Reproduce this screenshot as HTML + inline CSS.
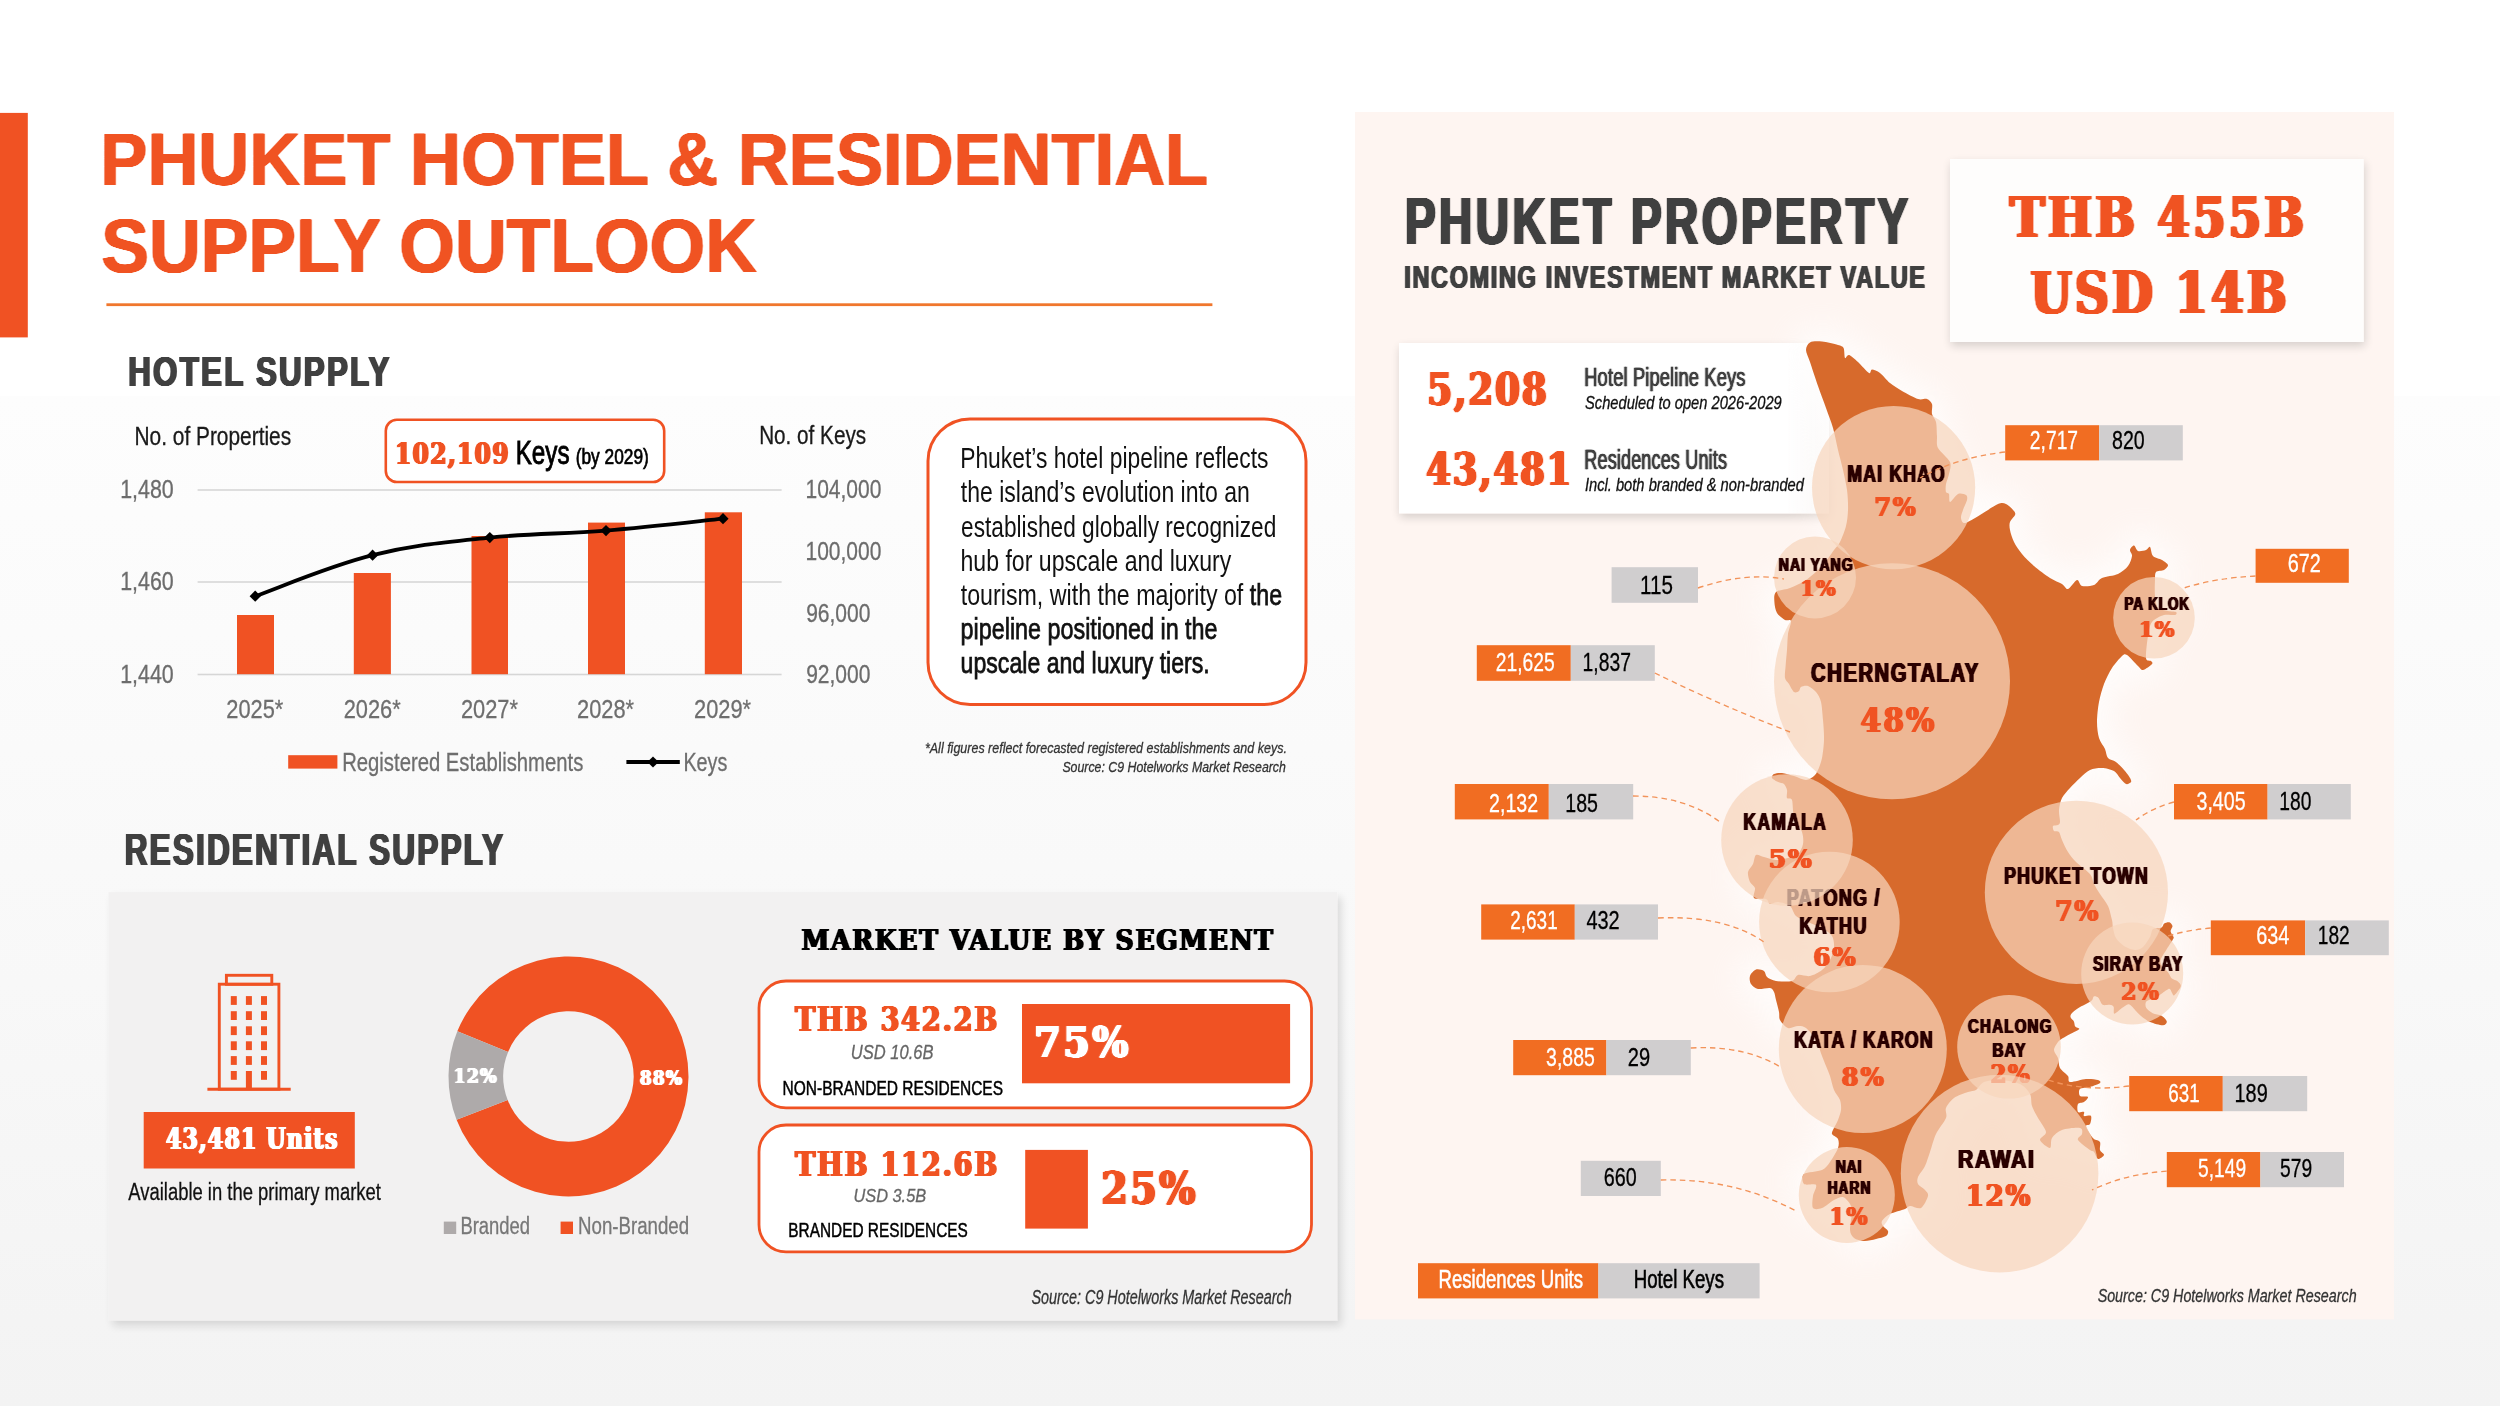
<!DOCTYPE html>
<html lang="en"><head><meta charset="utf-8"><title>Phuket Hotel &amp; Residential Supply Outlook</title><style>html,body{margin:0;padding:0;background:#fff}body{width:2500px;height:1406px;overflow:hidden}svg{display:block;will-change:transform}text{white-space:pre}</style></head><body>
<svg width="2500" height="1406" viewBox="0 0 2500 1406">
<defs>
<linearGradient id="pagebg" x1="0" y1="0" x2="0" y2="1"><stop offset="0" stop-color="#ffffff"/><stop offset="0.2815" stop-color="#ffffff"/><stop offset="0.2816" stop-color="#fdfdfd"/><stop offset="0.7" stop-color="#f8f8f8"/><stop offset="1" stop-color="#f3f3f3"/></linearGradient>
<linearGradient id="statbg" x1="0" y1="0" x2="1" y2="0"><stop offset="0" stop-color="#fff" stop-opacity="1"/><stop offset="0.9" stop-color="#fff" stop-opacity="1"/><stop offset="1" stop-color="#fff" stop-opacity="0.7"/></linearGradient>
<filter id="sh1" x="-5%" y="-10%" width="110%" height="125%"><feGaussianBlur in="SourceAlpha" stdDeviation="5"/><feOffset dx="1" dy="4"/><feComponentTransfer><feFuncA type="linear" slope="0.16"/></feComponentTransfer><feMerge><feMergeNode/><feMergeNode in="SourceGraphic"/></feMerge></filter>
<filter id="sh2" x="-5%" y="-10%" width="110%" height="125%"><feGaussianBlur in="SourceAlpha" stdDeviation="4.5"/><feOffset dx="4" dy="5"/><feComponentTransfer><feFuncA type="linear" slope="0.13"/></feComponentTransfer><feMerge><feMergeNode/><feMergeNode in="SourceGraphic"/></feMerge></filter>
<filter id="glow" x="-30%" y="-15%" width="160%" height="130%"><feGaussianBlur stdDeviation="16"/></filter>
<filter id="tk3_404040" x="-4%" y="-30%" width="108%" height="160%"><feConvolveMatrix in="SourceAlpha" order="3 1" kernelMatrix="0.30 1 0.30" divisor="1" edgeMode="none" result="m"/><feFlood flood-color="#404040"/><feComposite in2="m" operator="in"/></filter>
<filter id="tk6_2a0503" x="-4%" y="-30%" width="108%" height="160%"><feConvolveMatrix in="SourceAlpha" order="3 1" kernelMatrix="0.60 1 0.60" divisor="1" edgeMode="none" result="m"/><feFlood flood-color="#2a0503"/><feComposite in2="m" operator="in"/></filter>
<filter id="tk6_f05223" x="-4%" y="-30%" width="108%" height="160%"><feConvolveMatrix in="SourceAlpha" order="3 1" kernelMatrix="0.60 1 0.60" divisor="1" edgeMode="none" result="m"/><feFlood flood-color="#f05223"/><feComposite in2="m" operator="in"/></filter>
<filter id="tk7_2a0503" x="-4%" y="-30%" width="108%" height="160%"><feConvolveMatrix in="SourceAlpha" order="3 1" kernelMatrix="0.70 1 0.70" divisor="1" edgeMode="none" result="m"/><feFlood flood-color="#2a0503"/><feComposite in2="m" operator="in"/></filter>
<filter id="tk7_404040" x="-4%" y="-30%" width="108%" height="160%"><feConvolveMatrix in="SourceAlpha" order="3 1" kernelMatrix="0.70 1 0.70" divisor="1" edgeMode="none" result="m"/><feFlood flood-color="#404040"/><feComposite in2="m" operator="in"/></filter>
<filter id="tk7_f05223" x="-4%" y="-30%" width="108%" height="160%"><feConvolveMatrix in="SourceAlpha" order="3 1" kernelMatrix="0.70 1 0.70" divisor="1" edgeMode="none" result="m"/><feFlood flood-color="#f05223"/><feComposite in2="m" operator="in"/></filter>
<filter id="tk7_fff" x="-4%" y="-30%" width="108%" height="160%"><feConvolveMatrix in="SourceAlpha" order="3 1" kernelMatrix="0.70 1 0.70" divisor="1" edgeMode="none" result="m"/><feFlood flood-color="#fff"/><feComposite in2="m" operator="in"/></filter>
<filter id="tk8_000" x="-4%" y="-30%" width="108%" height="160%"><feConvolveMatrix in="SourceAlpha" order="3 1" kernelMatrix="0.80 1 0.80" divisor="1" edgeMode="none" result="m"/><feFlood flood-color="#000"/><feComposite in2="m" operator="in"/></filter>
<filter id="tk8_f05223" x="-4%" y="-30%" width="108%" height="160%"><feConvolveMatrix in="SourceAlpha" order="3 1" kernelMatrix="0.80 1 0.80" divisor="1" edgeMode="none" result="m"/><feFlood flood-color="#f05223"/><feComposite in2="m" operator="in"/></filter>
<filter id="tk9_404040" x="-4%" y="-30%" width="108%" height="160%"><feConvolveMatrix in="SourceAlpha" order="3 1" kernelMatrix="0.90 1 0.90" divisor="1" edgeMode="none" result="m"/><feFlood flood-color="#404040"/><feComposite in2="m" operator="in"/></filter>
<filter id="tk9_f05223" x="-4%" y="-30%" width="108%" height="160%"><feConvolveMatrix in="SourceAlpha" order="3 1" kernelMatrix="0.90 1 0.90" divisor="1" edgeMode="none" result="m"/><feFlood flood-color="#f05223"/><feComposite in2="m" operator="in"/></filter>
<filter id="tk9_fff" x="-4%" y="-30%" width="108%" height="160%"><feConvolveMatrix in="SourceAlpha" order="3 1" kernelMatrix="0.90 1 0.90" divisor="1" edgeMode="none" result="m"/><feFlood flood-color="#fff"/><feComposite in2="m" operator="in"/></filter>
<filter id="tk12_404040" x="-4%" y="-30%" width="108%" height="160%"><feConvolveMatrix in="SourceAlpha" order="5 1" kernelMatrix="0.20 1 1 1 0.20" divisor="1" edgeMode="none" result="m"/><feFlood flood-color="#404040"/><feComposite in2="m" operator="in"/></filter>
<filter id="tk12_f05223" x="-4%" y="-30%" width="108%" height="160%"><feConvolveMatrix in="SourceAlpha" order="5 1" kernelMatrix="0.20 1 1 1 0.20" divisor="1" edgeMode="none" result="m"/><feFlood flood-color="#f05223"/><feComposite in2="m" operator="in"/></filter>
<filter id="tk12_fff" x="-4%" y="-30%" width="108%" height="160%"><feConvolveMatrix in="SourceAlpha" order="5 1" kernelMatrix="0.20 1 1 1 0.20" divisor="1" edgeMode="none" result="m"/><feFlood flood-color="#fff"/><feComposite in2="m" operator="in"/></filter>
<filter id="tk15_f05223" x="-4%" y="-30%" width="108%" height="160%"><feConvolveMatrix in="SourceAlpha" order="5 1" kernelMatrix="0.50 1 1 1 0.50" divisor="1" edgeMode="none" result="m"/><feFlood flood-color="#f05223"/><feComposite in2="m" operator="in"/></filter>
</defs>
<rect width="2500" height="1406" fill="url(#pagebg)"/>
<rect x="0" y="112.9" width="27.8" height="224.5" fill="#f05223"/>
<rect x="106.4" y="303.3" width="1106" height="2.8" fill="#f0772d"/>
<g id="hotel-chart">
<rect x="197.6" y="489.2" width="584" height="1.6" fill="#d6d6d6"/>
<rect x="197.6" y="581.2" width="584" height="1.6" fill="#d6d6d6"/>
<rect x="197.6" y="673.7" width="584" height="1.6" fill="#d6d6d6"/>
<rect x="237" y="615" width="37.0" height="59.2" fill="#f05223"/>
<rect x="353.8" y="573" width="37.1" height="101.2" fill="#f05223"/>
<rect x="471.5" y="536" width="36.5" height="138.2" fill="#f05223"/>
<rect x="588" y="522.6" width="37.0" height="151.6" fill="#f05223"/>
<rect x="704.8" y="512.3" width="37.2" height="161.9" fill="#f05223"/>
<path d="M255.2,596.2C276.7,588.7 329.6,565.9 372.6,555.2C415.6,544.5 447.0,542.1 489.8,537.6C532.6,533.1 563.2,534.1 606.0,530.6C648.8,527.1 701.5,520.9 723.0,518.7" fill="none" stroke="#000" stroke-width="3.8" stroke-linecap="round"/>
<path d="M249.6,596.2L255.2,590.6L260.8,596.2L255.2,601.8000000000001Z" fill="#000"/>
<path d="M367.0,555.2L372.6,549.6L378.20000000000005,555.2L372.6,560.8000000000001Z" fill="#000"/>
<path d="M484.2,537.6L489.8,532.0L495.40000000000003,537.6L489.8,543.2Z" fill="#000"/>
<path d="M600.4,530.6L606,525.0L611.6,530.6L606,536.2Z" fill="#000"/>
<path d="M717.4,518.7L723,513.1L728.6,518.7L723,524.3000000000001Z" fill="#000"/>
<rect x="385.8" y="419.8" width="278.4" height="62.2" rx="11" fill="#fff" stroke="#f05223" stroke-width="2.6"/>
<rect x="288.2" y="755.2" width="49.2" height="13.4" fill="#f05223"/>
<path d="M626.4,762H679.8" stroke="#000" stroke-width="3.8"/><path d="M647.4,762l5.6,-5.6l5.6,5.6l-5.6,5.6Z" fill="#000"/>
</g>
<rect x="928" y="419" width="378" height="285.5" rx="42" fill="#fff" stroke="#f05223" stroke-width="3"/>
<text xml:space="preserve" x="960.17" y="468.30" font-family="Liberation Sans, sans-serif" font-size="28.99" fill="#111" textLength="308.33" lengthAdjust="spacingAndGlyphs">Phuket’s hotel pipeline reflects</text>
<text xml:space="preserve" x="960.75" y="502.43" font-family="Liberation Sans, sans-serif" font-size="28.99" fill="#111" textLength="289.05" lengthAdjust="spacingAndGlyphs">the island’s evolution into an</text>
<text xml:space="preserve" x="961.09" y="536.56" font-family="Liberation Sans, sans-serif" font-size="28.99" fill="#111" textLength="315.19" lengthAdjust="spacingAndGlyphs">established globally recognized</text>
<text xml:space="preserve" x="960.50" y="570.69" font-family="Liberation Sans, sans-serif" font-size="28.99" fill="#111" textLength="270.80" lengthAdjust="spacingAndGlyphs">hub for upscale and luxury</text>
<text xml:space="preserve" x="960.75" y="604.82" font-family="Liberation Sans, sans-serif" font-size="28.99" fill="#111" textLength="321.30" lengthAdjust="spacingAndGlyphs">tourism, with the majority of <tspan stroke="#111" stroke-width="0.75">the</tspan></text>
<text xml:space="preserve" x="960.60" y="638.95" font-family="Liberation Sans, sans-serif" font-size="28.99" fill="#111" textLength="256.96" lengthAdjust="spacingAndGlyphs"><tspan stroke="#111" stroke-width="0.75">pipeline positioned in the</tspan></text>
<text xml:space="preserve" x="960.61" y="673.08" font-family="Liberation Sans, sans-serif" font-size="28.99" fill="#111" textLength="249.12" lengthAdjust="spacingAndGlyphs"><tspan stroke="#111" stroke-width="0.75">upscale and luxury tiers.</tspan></text>
<rect x="108.5" y="892.2" width="1228.7" height="428.4" fill="#f2f1f1" filter="url(#sh2)"/>
<g id="building-icon" fill="none" stroke="#f05223" stroke-width="2.9">
<path d="M207.4,1089.3H290.7"/><rect x="219.3" y="984.2" width="59.6" height="105"/><rect x="226.4" y="975.3" width="45.4" height="9"/>
</g>
<g fill="#f05223">
<rect x="230.8" y="996.1" width="6" height="8.8"/>
<rect x="230.8" y="1011.2" width="6" height="8.8"/>
<rect x="230.8" y="1026.3" width="6" height="8.8"/>
<rect x="230.8" y="1041.3" width="6" height="8.8"/>
<rect x="230.8" y="1056.1" width="6" height="8.8"/>
<rect x="230.8" y="1071.0" width="6" height="8.8"/>
<rect x="245.9" y="996.1" width="6" height="8.8"/>
<rect x="245.9" y="1011.2" width="6" height="8.8"/>
<rect x="245.9" y="1026.3" width="6" height="8.8"/>
<rect x="245.9" y="1041.3" width="6" height="8.8"/>
<rect x="245.9" y="1056.1" width="6" height="8.8"/>
<rect x="245.9" y="1071.0" width="6" height="18.4"/>
<rect x="261.0" y="996.1" width="6" height="8.8"/>
<rect x="261.0" y="1011.2" width="6" height="8.8"/>
<rect x="261.0" y="1026.3" width="6" height="8.8"/>
<rect x="261.0" y="1041.3" width="6" height="8.8"/>
<rect x="261.0" y="1056.1" width="6" height="8.8"/>
<rect x="261.0" y="1071.0" width="6" height="8.8"/>
</g>
<rect x="143.7" y="1112" width="211.1" height="56.5" fill="#f05223"/>
<path d="M457.32,1031.35A120,120 0 1 1 456.55,1119.70L507.67,1099.97A65.2,65.2 0 1 0 508.09,1051.97Z" fill="#f05223"/>
<path d="M456.55,1119.70A120,120 0 0 1 457.32,1031.35L508.09,1051.97A65.2,65.2 0 0 0 507.67,1099.97Z" fill="#aeaaaa"/>
<rect x="443.8" y="1221.6" width="12.4" height="12.4" fill="#aeaaaa"/>
<rect x="560.6" y="1221.6" width="12.4" height="12.4" fill="#f05223"/>
<rect x="759" y="981" width="552.5" height="126.8" rx="27" fill="#fff" stroke="#f05223" stroke-width="2.8"/>
<rect x="759" y="1125" width="552.5" height="126.8" rx="27" fill="#fff" stroke="#f05223" stroke-width="2.8"/>
<rect x="1022" y="1004" width="268.1" height="79.3" fill="#f05223"/>
<rect x="1025.2" y="1149.9" width="62.7" height="78.7" fill="#f05223"/>
<rect x="1355" y="112" width="1039" height="1207.4" fill="#fef5f1"/>
<rect x="1950" y="159" width="413.8" height="183" fill="#fefdfc" filter="url(#sh1)"/>
<rect x="1399" y="343" width="430" height="170.4" fill="url(#statbg)" filter="url(#sh1)"/>
<path d="M1806.0,350.0C1806.0,347.1 1807.6,343.7 1810.0,342.4C1812.4,341.1 1817.8,341.2 1822.0,341.6C1826.2,342.0 1834.8,344.0 1838.0,345.0C1841.2,346.0 1842.5,346.1 1843.6,348.0C1844.6,349.9 1844.2,356.9 1845.0,358.0C1845.8,359.1 1847.0,354.4 1849.0,355.0C1851.0,355.6 1855.0,359.3 1858.0,362.0C1861.0,364.7 1866.9,371.9 1869.0,373.0C1871.1,374.1 1870.3,369.6 1872.0,369.6C1873.7,369.6 1877.3,371.0 1880.0,373.0C1882.7,375.0 1886.7,380.3 1890.0,383.0C1893.3,385.7 1897.8,388.6 1902.0,391.0C1906.2,393.4 1914.2,397.8 1918.0,399.0C1921.8,400.2 1924.9,398.2 1927.0,399.0C1929.1,399.8 1931.2,401.8 1932.0,404.0C1932.8,406.2 1931.4,411.3 1932.0,414.0C1932.6,416.7 1935.2,418.7 1936.0,422.0C1936.8,425.3 1936.7,432.1 1937.0,436.0C1937.3,439.9 1936.0,444.1 1938.0,448.0C1940.0,451.9 1948.3,458.1 1950.0,462.0C1951.7,465.9 1949.6,470.7 1949.0,474.0C1948.4,477.3 1946.5,481.3 1946.0,484.0C1945.5,486.7 1945.5,490.5 1946.0,492.0C1946.5,493.5 1948.4,492.5 1949.0,494.0C1949.6,495.5 1948.7,502.0 1950.0,502.0C1951.3,502.0 1955.6,495.1 1958.0,494.0C1960.4,492.9 1964.7,494.1 1966.0,495.0C1967.3,495.9 1967.5,497.8 1967.0,500.0C1966.5,502.2 1963.9,507.3 1963.0,510.0C1962.1,512.7 1960.7,516.0 1961.0,518.0C1961.3,520.0 1962.2,523.5 1965.0,523.0C1967.8,522.5 1975.0,517.9 1980.0,515.0C1985.0,512.1 1994.1,505.6 1998.0,504.0C2001.9,502.4 2003.6,502.9 2006.0,504.0C2008.4,505.1 2012.7,509.4 2014.0,511.0C2015.3,512.6 2015.6,513.4 2015.0,515.0C2014.4,516.6 2010.8,519.8 2010.0,522.0C2009.2,524.2 2009.4,527.0 2010.0,530.0C2010.6,533.0 2012.2,538.4 2014.0,542.0C2015.8,545.6 2019.0,550.4 2022.0,554.0C2025.0,557.6 2029.8,562.4 2034.0,566.0C2038.2,569.6 2045.8,575.3 2050.0,578.0C2054.2,580.7 2059.3,582.4 2062.0,584.0C2064.7,585.6 2065.8,589.6 2068.0,589.0C2070.2,588.4 2074.9,580.5 2077.0,580.0C2079.1,579.5 2079.4,585.2 2082.0,586.0C2084.6,586.8 2091.0,586.2 2094.0,585.0C2097.0,583.8 2098.4,579.6 2102.0,578.0C2105.6,576.4 2114.1,575.8 2118.0,574.0C2121.9,572.2 2125.9,568.7 2128.0,566.0C2130.1,563.3 2131.7,558.4 2132.0,556.0C2132.3,553.6 2129.7,551.6 2130.0,550.0C2130.3,548.4 2132.8,545.5 2134.0,545.6C2135.2,545.8 2136.2,550.3 2138.0,551.0C2139.8,551.7 2144.2,550.6 2146.0,550.0C2147.8,549.4 2148.9,546.1 2150.0,547.0C2151.1,547.9 2151.2,554.0 2153.0,556.0C2154.8,558.0 2159.8,558.6 2162.0,560.0C2164.2,561.4 2167.7,563.5 2168.0,565.0C2168.3,566.5 2165.8,569.0 2164.0,570.0C2162.2,571.0 2157.3,570.5 2156.0,572.0C2154.7,573.5 2155.2,576.4 2155.0,580.0C2154.8,583.6 2154.6,591.8 2155.0,596.0C2155.4,600.2 2156.1,605.8 2158.0,608.0C2159.9,610.2 2165.3,610.4 2168.0,611.0C2170.7,611.6 2174.9,611.4 2176.0,612.0C2177.1,612.6 2176.8,614.5 2175.0,615.0C2173.2,615.5 2167.4,614.0 2164.0,615.0C2160.6,616.0 2154.4,618.9 2152.0,622.0C2149.6,625.1 2148.9,630.6 2148.0,636.0C2147.1,641.4 2145.6,654.2 2146.0,658.0C2146.4,661.8 2150.1,660.1 2151.0,661.0C2151.9,661.9 2153.2,662.6 2152.0,664.0C2150.8,665.4 2145.1,669.7 2143.0,670.0C2140.9,670.3 2140.4,668.2 2138.0,666.0C2135.6,663.8 2129.4,656.5 2127.0,655.0C2124.6,653.5 2124.2,654.0 2122.0,656.0C2119.8,658.0 2114.7,663.8 2112.0,668.0C2109.3,672.2 2105.9,678.9 2104.0,684.0C2102.1,689.1 2100.1,696.3 2099.0,702.0C2097.9,707.7 2097.0,716.6 2097.0,722.0C2097.0,727.4 2097.8,734.0 2099.0,738.0C2100.2,742.0 2103.7,746.0 2105.0,749.0C2106.3,752.0 2106.3,756.0 2108.0,758.0C2109.7,760.0 2113.4,760.0 2116.0,762.0C2118.6,764.0 2122.9,768.6 2125.0,771.0C2127.1,773.4 2129.1,776.4 2130.0,778.0C2130.9,779.6 2131.6,781.1 2131.0,782.0C2130.4,782.9 2127.7,784.6 2126.0,784.0C2124.3,783.4 2121.8,780.0 2120.0,778.0C2118.2,776.0 2116.7,772.5 2114.0,771.0C2111.3,769.5 2105.6,768.1 2102.0,768.0C2098.4,767.9 2093.3,768.5 2090.0,770.0C2086.7,771.5 2083.0,775.3 2080.0,778.0C2077.0,780.7 2072.7,785.0 2070.0,788.0C2067.3,791.0 2063.7,794.7 2062.0,798.0C2060.3,801.3 2059.3,806.4 2059.0,810.0C2058.7,813.6 2060.2,819.8 2060.0,822.0C2059.8,824.2 2059.1,824.4 2058.0,825.0C2056.9,825.6 2053.6,825.1 2053.0,826.0C2052.4,826.9 2053.1,830.1 2054.0,831.0C2054.9,831.9 2057.8,830.6 2059.0,832.0C2060.2,833.4 2060.7,837.0 2062.0,840.0C2063.3,843.0 2065.9,848.7 2068.0,852.0C2070.1,855.3 2072.7,858.7 2076.0,862.0C2079.3,865.3 2087.3,870.7 2090.0,874.0C2092.7,877.3 2092.5,881.0 2094.0,884.0C2095.5,887.0 2097.9,890.7 2100.0,894.0C2102.1,897.3 2106.2,902.1 2108.0,906.0C2109.8,909.9 2111.2,916.7 2112.0,920.0C2112.8,923.3 2112.4,925.3 2113.0,928.0C2113.6,930.7 2114.3,935.3 2116.0,938.0C2117.7,940.7 2121.2,944.2 2124.0,946.0C2126.8,947.8 2132.2,949.9 2135.0,950.0C2137.8,950.1 2140.8,949.0 2143.0,947.0C2145.2,945.0 2148.5,939.7 2150.0,937.0C2151.5,934.3 2151.3,930.4 2153.0,929.0C2154.7,927.6 2159.9,928.2 2161.6,927.4C2163.3,926.6 2163.0,924.3 2164.2,923.5C2165.4,922.7 2168.1,921.9 2169.3,922.3C2170.5,922.7 2172.3,924.8 2172.5,926.1C2172.7,927.4 2170.5,929.7 2170.6,931.2C2170.7,932.7 2172.8,935.1 2173.2,936.3C2173.6,937.5 2174.2,937.0 2173.2,938.9C2172.2,940.8 2168.7,945.6 2166.8,949.1C2164.9,952.6 2160.2,958.4 2160.4,961.9C2160.6,965.4 2166.3,969.7 2168.0,972.2C2169.7,974.7 2170.5,977.2 2171.9,978.6C2173.3,980.0 2176.3,980.0 2177.6,981.2C2178.9,982.4 2181.3,984.2 2180.8,986.3C2180.3,988.4 2175.7,994.2 2174.4,995.2C2173.1,996.2 2172.7,993.7 2171.9,992.7C2171.1,991.7 2170.7,988.8 2169.3,988.8C2168.0,988.8 2165.0,991.4 2162.9,992.7C2160.8,994.1 2157.7,996.5 2155.2,997.8C2152.7,999.1 2147.6,1000.1 2146.3,1001.6C2145.0,1003.1 2145.3,1006.3 2146.3,1008.0C2147.3,1009.7 2150.4,1012.0 2152.7,1013.2C2155.0,1014.4 2159.5,1014.5 2161.6,1015.7C2163.7,1016.9 2166.6,1020.1 2166.8,1021.5C2167.0,1022.9 2165.4,1025.2 2162.9,1025.3C2160.4,1025.4 2153.5,1023.6 2150.1,1022.1C2146.7,1020.6 2142.6,1017.4 2139.9,1015.1C2137.2,1012.8 2133.9,1008.4 2132.2,1006.8C2130.5,1005.2 2129.8,1004.0 2128.3,1004.2C2126.8,1004.4 2124.0,1006.6 2121.9,1008.0C2119.8,1009.4 2115.5,1014.0 2114.3,1013.8C2113.1,1013.6 2114.3,1008.1 2113.6,1006.8C2112.9,1005.4 2111.4,1005.1 2109.8,1004.8C2108.2,1004.5 2104.4,1005.8 2102.7,1004.8C2101.0,1003.8 2099.6,999.0 2098.3,997.8C2097.0,996.6 2094.9,996.0 2093.8,996.5C2092.7,997.0 2093.5,999.3 2091.2,1001.0C2088.9,1002.7 2081.4,1006.1 2078.4,1008.0C2075.4,1009.9 2072.6,1012.4 2071.4,1013.8C2070.2,1015.2 2070.3,1016.4 2070.7,1017.6C2071.1,1018.8 2073.2,1020.1 2073.9,1021.5C2074.6,1022.9 2074.4,1025.4 2075.2,1026.6C2076.0,1027.8 2080.2,1028.0 2079.1,1029.2C2078.0,1030.4 2070.6,1033.6 2068.2,1034.9C2065.8,1036.2 2064.5,1037.0 2063.0,1038.1C2061.5,1039.2 2059.3,1040.2 2058.0,1042.0C2056.7,1043.8 2054.0,1047.6 2054.0,1050.0C2054.0,1052.4 2057.1,1055.3 2058.0,1058.0C2058.9,1060.7 2058.5,1065.3 2060.0,1068.0C2061.5,1070.7 2066.5,1073.9 2068.0,1076.0C2069.5,1078.1 2067.3,1081.5 2070.0,1082.0C2072.7,1082.5 2081.8,1079.3 2086.0,1079.0C2090.2,1078.7 2095.9,1079.4 2098.0,1080.0C2100.1,1080.6 2101.2,1082.0 2100.0,1083.0C2098.8,1084.0 2093.0,1086.1 2090.0,1087.0C2087.0,1087.9 2081.5,1087.7 2080.0,1089.0C2078.5,1090.3 2078.8,1094.8 2080.0,1096.0C2081.2,1097.2 2087.4,1096.1 2088.0,1097.0C2088.6,1097.9 2085.5,1101.0 2084.0,1102.0C2082.5,1103.0 2078.9,1102.5 2078.0,1104.0C2077.1,1105.5 2077.1,1110.8 2078.0,1112.0C2078.9,1113.2 2083.1,1111.4 2084.0,1112.0C2084.9,1112.6 2082.9,1115.4 2084.0,1116.0C2085.1,1116.6 2090.1,1114.8 2091.0,1116.0C2091.9,1117.2 2090.8,1122.5 2090.0,1124.0C2089.2,1125.5 2086.0,1124.5 2086.0,1126.0C2086.0,1127.5 2088.8,1132.0 2090.0,1134.0C2091.2,1136.0 2092.5,1137.8 2094.0,1139.0C2095.5,1140.2 2099.1,1140.3 2100.0,1142.0C2100.9,1143.7 2099.4,1148.0 2100.0,1150.0C2100.6,1152.0 2104.3,1153.7 2104.0,1155.0C2103.7,1156.3 2099.5,1159.5 2098.0,1159.0C2096.5,1158.5 2095.2,1153.3 2094.0,1152.0C2092.8,1150.7 2092.4,1151.8 2090.0,1150.0C2087.6,1148.2 2079.2,1142.4 2078.0,1140.0C2076.8,1137.6 2081.7,1135.8 2082.0,1134.0C2082.3,1132.2 2083.0,1128.6 2080.0,1128.0C2077.0,1127.4 2066.2,1128.5 2062.0,1130.0C2057.8,1131.5 2053.8,1135.3 2052.0,1138.0C2050.2,1140.7 2051.8,1147.7 2050.0,1148.0C2048.2,1148.3 2040.6,1142.4 2040.0,1140.0C2039.4,1137.6 2046.3,1135.3 2046.0,1132.0C2045.7,1128.7 2040.1,1121.9 2038.0,1118.0C2035.9,1114.1 2033.2,1109.6 2032.0,1106.0C2030.8,1102.4 2031.8,1097.3 2030.0,1094.0C2028.2,1090.7 2024.5,1086.1 2020.0,1084.0C2015.5,1081.9 2005.4,1080.3 2000.0,1080.0C1994.6,1079.7 1987.6,1080.5 1984.0,1082.0C1980.4,1083.5 1978.4,1088.5 1976.0,1090.0C1973.6,1091.5 1971.3,1090.8 1968.0,1092.0C1964.7,1093.2 1957.3,1095.6 1954.0,1098.0C1950.7,1100.4 1947.2,1105.0 1946.0,1108.0C1944.8,1111.0 1947.5,1114.1 1946.0,1118.0C1944.5,1121.9 1938.4,1128.9 1936.0,1134.0C1933.6,1139.1 1931.7,1147.2 1930.0,1152.0C1928.3,1156.8 1926.8,1162.2 1925.0,1166.0C1923.2,1169.8 1919.0,1174.3 1918.0,1177.0C1917.0,1179.7 1917.0,1182.0 1918.0,1184.0C1919.0,1186.0 1923.5,1188.2 1925.0,1190.0C1926.5,1191.8 1928.6,1193.3 1928.0,1196.0C1927.4,1198.7 1923.7,1206.5 1921.0,1208.0C1918.3,1209.5 1912.4,1205.8 1910.0,1206.0C1907.6,1206.2 1908.0,1207.8 1905.0,1209.0C1902.0,1210.2 1893.5,1212.2 1890.0,1214.0C1886.5,1215.8 1883.0,1219.2 1882.0,1221.0C1881.0,1222.8 1882.1,1224.5 1883.0,1226.0C1883.9,1227.5 1887.5,1229.5 1888.0,1231.0C1888.5,1232.5 1887.8,1234.8 1886.0,1236.0C1884.2,1237.2 1879.3,1238.2 1876.0,1239.0C1872.7,1239.8 1867.3,1241.2 1864.0,1241.0C1860.7,1240.8 1856.1,1239.7 1854.0,1238.0C1851.9,1236.3 1850.3,1233.9 1850.0,1230.0C1849.7,1226.1 1852.0,1215.9 1852.0,1212.0C1852.0,1208.1 1851.3,1206.2 1850.0,1204.0C1848.7,1201.8 1845.4,1197.6 1843.0,1197.0C1840.6,1196.4 1837.2,1198.3 1834.0,1200.0C1830.8,1201.7 1825.2,1206.8 1822.0,1208.0C1818.8,1209.2 1814.3,1209.8 1813.0,1208.0C1811.7,1206.2 1812.5,1199.5 1813.0,1196.0C1813.5,1192.5 1817.3,1186.8 1816.0,1185.0C1814.7,1183.2 1805.8,1185.7 1804.0,1184.0C1802.2,1182.3 1801.3,1176.1 1804.0,1174.0C1806.7,1171.9 1818.1,1171.8 1822.0,1170.0C1825.9,1168.2 1827.6,1165.3 1830.0,1162.0C1832.4,1158.7 1836.8,1151.5 1838.0,1148.0C1839.2,1144.5 1838.9,1141.1 1838.0,1139.0C1837.1,1136.9 1832.6,1135.7 1832.0,1134.0C1831.4,1132.3 1833.1,1130.1 1834.0,1128.0C1834.9,1125.9 1837.0,1122.7 1838.0,1120.0C1839.0,1117.3 1840.7,1113.0 1841.0,1110.0C1841.3,1107.0 1841.0,1103.0 1840.0,1100.0C1839.0,1097.0 1835.5,1093.6 1834.0,1090.0C1832.5,1086.4 1831.2,1079.6 1830.0,1076.0C1828.8,1072.4 1827.2,1069.0 1826.0,1066.0C1824.8,1063.0 1823.5,1059.9 1822.0,1056.0C1820.5,1052.1 1818.4,1044.2 1816.0,1040.0C1813.6,1035.8 1808.7,1030.1 1806.0,1028.0C1803.3,1025.9 1800.7,1026.0 1798.0,1026.0C1795.3,1026.0 1790.7,1028.9 1788.0,1028.0C1785.3,1027.1 1781.3,1022.4 1780.0,1020.0C1778.7,1017.6 1779.6,1015.0 1779.0,1012.0C1778.4,1009.0 1776.8,1003.0 1776.0,1000.0C1775.2,997.0 1774.9,993.8 1774.0,992.0C1773.1,990.2 1772.4,988.5 1770.0,988.0C1767.6,987.5 1760.8,989.6 1758.0,989.0C1755.2,988.4 1752.2,986.0 1751.0,984.0C1749.8,982.0 1749.2,978.2 1750.0,976.0C1750.8,973.8 1753.9,970.4 1756.0,969.6C1758.1,968.9 1762.3,969.9 1764.0,971.0C1765.7,972.1 1765.2,975.5 1767.0,977.0C1768.8,978.5 1772.2,980.4 1776.0,981.0C1779.8,981.6 1788.7,981.9 1792.0,981.0C1795.3,980.1 1795.3,975.8 1798.0,975.0C1800.7,974.2 1806.4,976.8 1810.0,976.0C1813.6,975.2 1819.0,972.4 1822.0,970.0C1825.0,967.6 1828.2,963.3 1830.0,960.0C1831.8,956.7 1833.7,951.6 1834.0,948.0C1834.3,944.4 1833.8,939.0 1832.0,936.0C1830.2,933.0 1825.6,930.1 1822.0,928.0C1818.4,925.9 1811.9,923.8 1808.0,922.0C1804.1,920.2 1798.7,918.4 1796.0,916.0C1793.3,913.6 1792.7,908.1 1790.0,906.0C1787.3,903.9 1781.0,902.3 1778.0,902.0C1775.0,901.7 1771.8,904.5 1770.0,904.0C1768.2,903.5 1768.4,899.9 1766.0,899.0C1763.6,898.1 1755.7,899.6 1754.0,898.0C1752.3,896.4 1755.6,890.4 1755.0,888.0C1754.4,885.6 1751.0,884.4 1750.0,882.0C1749.0,879.6 1747.5,874.7 1748.0,872.0C1748.5,869.3 1751.8,866.5 1753.0,864.0C1754.2,861.5 1754.3,856.0 1756.0,855.0C1757.7,854.0 1761.0,856.2 1764.0,857.0C1767.0,857.8 1772.4,859.9 1776.0,860.0C1779.6,860.1 1784.7,858.9 1788.0,858.0C1791.3,857.1 1795.8,856.1 1798.0,854.0C1800.2,851.9 1802.4,847.3 1803.0,844.0C1803.6,840.7 1803.3,836.2 1802.0,832.0C1800.7,827.8 1795.5,820.8 1794.0,816.0C1792.5,811.2 1793.0,802.7 1792.0,800.0C1791.0,797.3 1787.8,799.5 1787.0,798.0C1786.2,796.5 1787.5,792.1 1787.0,790.0C1786.5,787.9 1785.3,785.2 1784.0,784.0C1782.7,782.8 1779.8,782.9 1778.0,782.0C1776.2,781.1 1772.6,779.2 1772.0,778.0C1771.4,776.8 1772.5,774.8 1774.0,774.0C1775.5,773.2 1779.0,772.7 1782.0,773.0C1785.0,773.3 1790.4,775.0 1794.0,776.0C1797.6,777.0 1803.0,780.0 1806.0,780.0C1809.0,780.0 1812.2,777.5 1814.0,776.0C1815.8,774.5 1816.8,772.7 1818.0,770.0C1819.2,767.3 1821.1,762.5 1822.0,758.0C1822.9,753.5 1823.8,745.7 1824.0,740.0C1824.2,734.3 1823.5,725.7 1823.0,720.0C1822.5,714.3 1822.0,706.2 1821.0,702.0C1820.0,697.8 1818.0,694.4 1816.0,692.0C1814.0,689.6 1810.2,686.8 1808.0,686.0C1805.8,685.2 1802.3,686.2 1801.0,687.0C1799.7,687.8 1800.0,690.2 1799.0,691.0C1798.0,691.8 1795.5,693.0 1794.0,692.0C1792.5,691.0 1790.3,686.1 1789.0,684.0C1787.7,681.9 1785.5,680.7 1785.0,678.0C1784.5,675.3 1785.3,670.2 1785.6,666.0C1785.9,661.8 1786.6,654.8 1787.0,650.0C1787.4,645.2 1787.4,638.4 1788.0,634.0C1788.6,629.6 1791.5,623.1 1791.0,621.0C1790.5,618.9 1787.1,621.2 1785.0,620.0C1782.9,618.8 1778.6,615.7 1777.0,613.0C1775.4,610.3 1774.6,605.1 1774.4,602.0C1774.2,598.9 1773.7,594.1 1776.0,592.0C1778.3,589.9 1785.5,589.8 1790.0,588.0C1794.5,586.2 1801.2,583.3 1806.0,580.0C1810.8,576.7 1817.8,570.5 1822.0,566.0C1826.2,561.5 1831.3,553.6 1834.0,550.0C1836.7,546.4 1838.2,545.6 1840.0,542.0C1841.8,538.4 1844.8,530.8 1846.0,526.0C1847.2,521.2 1847.8,515.4 1848.0,510.0C1848.2,504.6 1847.8,496.0 1847.0,490.0C1846.2,484.0 1844.3,476.0 1843.0,470.0C1841.7,464.0 1839.5,456.3 1838.0,450.0C1836.5,443.7 1834.8,434.3 1833.0,428.0C1831.2,421.7 1828.2,414.3 1826.0,408.0C1823.8,401.7 1820.4,392.9 1818.0,386.0C1815.6,379.1 1811.8,367.4 1810.0,362.0C1808.2,356.6 1806.0,352.9 1806.0,350.0Z" fill="#fff" stroke="#fff" stroke-width="26" stroke-linejoin="round" opacity="0.75" filter="url(#glow)"/>
<path id="island" d="M1806.0,350.0C1806.0,347.1 1807.6,343.7 1810.0,342.4C1812.4,341.1 1817.8,341.2 1822.0,341.6C1826.2,342.0 1834.8,344.0 1838.0,345.0C1841.2,346.0 1842.5,346.1 1843.6,348.0C1844.6,349.9 1844.2,356.9 1845.0,358.0C1845.8,359.1 1847.0,354.4 1849.0,355.0C1851.0,355.6 1855.0,359.3 1858.0,362.0C1861.0,364.7 1866.9,371.9 1869.0,373.0C1871.1,374.1 1870.3,369.6 1872.0,369.6C1873.7,369.6 1877.3,371.0 1880.0,373.0C1882.7,375.0 1886.7,380.3 1890.0,383.0C1893.3,385.7 1897.8,388.6 1902.0,391.0C1906.2,393.4 1914.2,397.8 1918.0,399.0C1921.8,400.2 1924.9,398.2 1927.0,399.0C1929.1,399.8 1931.2,401.8 1932.0,404.0C1932.8,406.2 1931.4,411.3 1932.0,414.0C1932.6,416.7 1935.2,418.7 1936.0,422.0C1936.8,425.3 1936.7,432.1 1937.0,436.0C1937.3,439.9 1936.0,444.1 1938.0,448.0C1940.0,451.9 1948.3,458.1 1950.0,462.0C1951.7,465.9 1949.6,470.7 1949.0,474.0C1948.4,477.3 1946.5,481.3 1946.0,484.0C1945.5,486.7 1945.5,490.5 1946.0,492.0C1946.5,493.5 1948.4,492.5 1949.0,494.0C1949.6,495.5 1948.7,502.0 1950.0,502.0C1951.3,502.0 1955.6,495.1 1958.0,494.0C1960.4,492.9 1964.7,494.1 1966.0,495.0C1967.3,495.9 1967.5,497.8 1967.0,500.0C1966.5,502.2 1963.9,507.3 1963.0,510.0C1962.1,512.7 1960.7,516.0 1961.0,518.0C1961.3,520.0 1962.2,523.5 1965.0,523.0C1967.8,522.5 1975.0,517.9 1980.0,515.0C1985.0,512.1 1994.1,505.6 1998.0,504.0C2001.9,502.4 2003.6,502.9 2006.0,504.0C2008.4,505.1 2012.7,509.4 2014.0,511.0C2015.3,512.6 2015.6,513.4 2015.0,515.0C2014.4,516.6 2010.8,519.8 2010.0,522.0C2009.2,524.2 2009.4,527.0 2010.0,530.0C2010.6,533.0 2012.2,538.4 2014.0,542.0C2015.8,545.6 2019.0,550.4 2022.0,554.0C2025.0,557.6 2029.8,562.4 2034.0,566.0C2038.2,569.6 2045.8,575.3 2050.0,578.0C2054.2,580.7 2059.3,582.4 2062.0,584.0C2064.7,585.6 2065.8,589.6 2068.0,589.0C2070.2,588.4 2074.9,580.5 2077.0,580.0C2079.1,579.5 2079.4,585.2 2082.0,586.0C2084.6,586.8 2091.0,586.2 2094.0,585.0C2097.0,583.8 2098.4,579.6 2102.0,578.0C2105.6,576.4 2114.1,575.8 2118.0,574.0C2121.9,572.2 2125.9,568.7 2128.0,566.0C2130.1,563.3 2131.7,558.4 2132.0,556.0C2132.3,553.6 2129.7,551.6 2130.0,550.0C2130.3,548.4 2132.8,545.5 2134.0,545.6C2135.2,545.8 2136.2,550.3 2138.0,551.0C2139.8,551.7 2144.2,550.6 2146.0,550.0C2147.8,549.4 2148.9,546.1 2150.0,547.0C2151.1,547.9 2151.2,554.0 2153.0,556.0C2154.8,558.0 2159.8,558.6 2162.0,560.0C2164.2,561.4 2167.7,563.5 2168.0,565.0C2168.3,566.5 2165.8,569.0 2164.0,570.0C2162.2,571.0 2157.3,570.5 2156.0,572.0C2154.7,573.5 2155.2,576.4 2155.0,580.0C2154.8,583.6 2154.6,591.8 2155.0,596.0C2155.4,600.2 2156.1,605.8 2158.0,608.0C2159.9,610.2 2165.3,610.4 2168.0,611.0C2170.7,611.6 2174.9,611.4 2176.0,612.0C2177.1,612.6 2176.8,614.5 2175.0,615.0C2173.2,615.5 2167.4,614.0 2164.0,615.0C2160.6,616.0 2154.4,618.9 2152.0,622.0C2149.6,625.1 2148.9,630.6 2148.0,636.0C2147.1,641.4 2145.6,654.2 2146.0,658.0C2146.4,661.8 2150.1,660.1 2151.0,661.0C2151.9,661.9 2153.2,662.6 2152.0,664.0C2150.8,665.4 2145.1,669.7 2143.0,670.0C2140.9,670.3 2140.4,668.2 2138.0,666.0C2135.6,663.8 2129.4,656.5 2127.0,655.0C2124.6,653.5 2124.2,654.0 2122.0,656.0C2119.8,658.0 2114.7,663.8 2112.0,668.0C2109.3,672.2 2105.9,678.9 2104.0,684.0C2102.1,689.1 2100.1,696.3 2099.0,702.0C2097.9,707.7 2097.0,716.6 2097.0,722.0C2097.0,727.4 2097.8,734.0 2099.0,738.0C2100.2,742.0 2103.7,746.0 2105.0,749.0C2106.3,752.0 2106.3,756.0 2108.0,758.0C2109.7,760.0 2113.4,760.0 2116.0,762.0C2118.6,764.0 2122.9,768.6 2125.0,771.0C2127.1,773.4 2129.1,776.4 2130.0,778.0C2130.9,779.6 2131.6,781.1 2131.0,782.0C2130.4,782.9 2127.7,784.6 2126.0,784.0C2124.3,783.4 2121.8,780.0 2120.0,778.0C2118.2,776.0 2116.7,772.5 2114.0,771.0C2111.3,769.5 2105.6,768.1 2102.0,768.0C2098.4,767.9 2093.3,768.5 2090.0,770.0C2086.7,771.5 2083.0,775.3 2080.0,778.0C2077.0,780.7 2072.7,785.0 2070.0,788.0C2067.3,791.0 2063.7,794.7 2062.0,798.0C2060.3,801.3 2059.3,806.4 2059.0,810.0C2058.7,813.6 2060.2,819.8 2060.0,822.0C2059.8,824.2 2059.1,824.4 2058.0,825.0C2056.9,825.6 2053.6,825.1 2053.0,826.0C2052.4,826.9 2053.1,830.1 2054.0,831.0C2054.9,831.9 2057.8,830.6 2059.0,832.0C2060.2,833.4 2060.7,837.0 2062.0,840.0C2063.3,843.0 2065.9,848.7 2068.0,852.0C2070.1,855.3 2072.7,858.7 2076.0,862.0C2079.3,865.3 2087.3,870.7 2090.0,874.0C2092.7,877.3 2092.5,881.0 2094.0,884.0C2095.5,887.0 2097.9,890.7 2100.0,894.0C2102.1,897.3 2106.2,902.1 2108.0,906.0C2109.8,909.9 2111.2,916.7 2112.0,920.0C2112.8,923.3 2112.4,925.3 2113.0,928.0C2113.6,930.7 2114.3,935.3 2116.0,938.0C2117.7,940.7 2121.2,944.2 2124.0,946.0C2126.8,947.8 2132.2,949.9 2135.0,950.0C2137.8,950.1 2140.8,949.0 2143.0,947.0C2145.2,945.0 2148.5,939.7 2150.0,937.0C2151.5,934.3 2151.3,930.4 2153.0,929.0C2154.7,927.6 2159.9,928.2 2161.6,927.4C2163.3,926.6 2163.0,924.3 2164.2,923.5C2165.4,922.7 2168.1,921.9 2169.3,922.3C2170.5,922.7 2172.3,924.8 2172.5,926.1C2172.7,927.4 2170.5,929.7 2170.6,931.2C2170.7,932.7 2172.8,935.1 2173.2,936.3C2173.6,937.5 2174.2,937.0 2173.2,938.9C2172.2,940.8 2168.7,945.6 2166.8,949.1C2164.9,952.6 2160.2,958.4 2160.4,961.9C2160.6,965.4 2166.3,969.7 2168.0,972.2C2169.7,974.7 2170.5,977.2 2171.9,978.6C2173.3,980.0 2176.3,980.0 2177.6,981.2C2178.9,982.4 2181.3,984.2 2180.8,986.3C2180.3,988.4 2175.7,994.2 2174.4,995.2C2173.1,996.2 2172.7,993.7 2171.9,992.7C2171.1,991.7 2170.7,988.8 2169.3,988.8C2168.0,988.8 2165.0,991.4 2162.9,992.7C2160.8,994.1 2157.7,996.5 2155.2,997.8C2152.7,999.1 2147.6,1000.1 2146.3,1001.6C2145.0,1003.1 2145.3,1006.3 2146.3,1008.0C2147.3,1009.7 2150.4,1012.0 2152.7,1013.2C2155.0,1014.4 2159.5,1014.5 2161.6,1015.7C2163.7,1016.9 2166.6,1020.1 2166.8,1021.5C2167.0,1022.9 2165.4,1025.2 2162.9,1025.3C2160.4,1025.4 2153.5,1023.6 2150.1,1022.1C2146.7,1020.6 2142.6,1017.4 2139.9,1015.1C2137.2,1012.8 2133.9,1008.4 2132.2,1006.8C2130.5,1005.2 2129.8,1004.0 2128.3,1004.2C2126.8,1004.4 2124.0,1006.6 2121.9,1008.0C2119.8,1009.4 2115.5,1014.0 2114.3,1013.8C2113.1,1013.6 2114.3,1008.1 2113.6,1006.8C2112.9,1005.4 2111.4,1005.1 2109.8,1004.8C2108.2,1004.5 2104.4,1005.8 2102.7,1004.8C2101.0,1003.8 2099.6,999.0 2098.3,997.8C2097.0,996.6 2094.9,996.0 2093.8,996.5C2092.7,997.0 2093.5,999.3 2091.2,1001.0C2088.9,1002.7 2081.4,1006.1 2078.4,1008.0C2075.4,1009.9 2072.6,1012.4 2071.4,1013.8C2070.2,1015.2 2070.3,1016.4 2070.7,1017.6C2071.1,1018.8 2073.2,1020.1 2073.9,1021.5C2074.6,1022.9 2074.4,1025.4 2075.2,1026.6C2076.0,1027.8 2080.2,1028.0 2079.1,1029.2C2078.0,1030.4 2070.6,1033.6 2068.2,1034.9C2065.8,1036.2 2064.5,1037.0 2063.0,1038.1C2061.5,1039.2 2059.3,1040.2 2058.0,1042.0C2056.7,1043.8 2054.0,1047.6 2054.0,1050.0C2054.0,1052.4 2057.1,1055.3 2058.0,1058.0C2058.9,1060.7 2058.5,1065.3 2060.0,1068.0C2061.5,1070.7 2066.5,1073.9 2068.0,1076.0C2069.5,1078.1 2067.3,1081.5 2070.0,1082.0C2072.7,1082.5 2081.8,1079.3 2086.0,1079.0C2090.2,1078.7 2095.9,1079.4 2098.0,1080.0C2100.1,1080.6 2101.2,1082.0 2100.0,1083.0C2098.8,1084.0 2093.0,1086.1 2090.0,1087.0C2087.0,1087.9 2081.5,1087.7 2080.0,1089.0C2078.5,1090.3 2078.8,1094.8 2080.0,1096.0C2081.2,1097.2 2087.4,1096.1 2088.0,1097.0C2088.6,1097.9 2085.5,1101.0 2084.0,1102.0C2082.5,1103.0 2078.9,1102.5 2078.0,1104.0C2077.1,1105.5 2077.1,1110.8 2078.0,1112.0C2078.9,1113.2 2083.1,1111.4 2084.0,1112.0C2084.9,1112.6 2082.9,1115.4 2084.0,1116.0C2085.1,1116.6 2090.1,1114.8 2091.0,1116.0C2091.9,1117.2 2090.8,1122.5 2090.0,1124.0C2089.2,1125.5 2086.0,1124.5 2086.0,1126.0C2086.0,1127.5 2088.8,1132.0 2090.0,1134.0C2091.2,1136.0 2092.5,1137.8 2094.0,1139.0C2095.5,1140.2 2099.1,1140.3 2100.0,1142.0C2100.9,1143.7 2099.4,1148.0 2100.0,1150.0C2100.6,1152.0 2104.3,1153.7 2104.0,1155.0C2103.7,1156.3 2099.5,1159.5 2098.0,1159.0C2096.5,1158.5 2095.2,1153.3 2094.0,1152.0C2092.8,1150.7 2092.4,1151.8 2090.0,1150.0C2087.6,1148.2 2079.2,1142.4 2078.0,1140.0C2076.8,1137.6 2081.7,1135.8 2082.0,1134.0C2082.3,1132.2 2083.0,1128.6 2080.0,1128.0C2077.0,1127.4 2066.2,1128.5 2062.0,1130.0C2057.8,1131.5 2053.8,1135.3 2052.0,1138.0C2050.2,1140.7 2051.8,1147.7 2050.0,1148.0C2048.2,1148.3 2040.6,1142.4 2040.0,1140.0C2039.4,1137.6 2046.3,1135.3 2046.0,1132.0C2045.7,1128.7 2040.1,1121.9 2038.0,1118.0C2035.9,1114.1 2033.2,1109.6 2032.0,1106.0C2030.8,1102.4 2031.8,1097.3 2030.0,1094.0C2028.2,1090.7 2024.5,1086.1 2020.0,1084.0C2015.5,1081.9 2005.4,1080.3 2000.0,1080.0C1994.6,1079.7 1987.6,1080.5 1984.0,1082.0C1980.4,1083.5 1978.4,1088.5 1976.0,1090.0C1973.6,1091.5 1971.3,1090.8 1968.0,1092.0C1964.7,1093.2 1957.3,1095.6 1954.0,1098.0C1950.7,1100.4 1947.2,1105.0 1946.0,1108.0C1944.8,1111.0 1947.5,1114.1 1946.0,1118.0C1944.5,1121.9 1938.4,1128.9 1936.0,1134.0C1933.6,1139.1 1931.7,1147.2 1930.0,1152.0C1928.3,1156.8 1926.8,1162.2 1925.0,1166.0C1923.2,1169.8 1919.0,1174.3 1918.0,1177.0C1917.0,1179.7 1917.0,1182.0 1918.0,1184.0C1919.0,1186.0 1923.5,1188.2 1925.0,1190.0C1926.5,1191.8 1928.6,1193.3 1928.0,1196.0C1927.4,1198.7 1923.7,1206.5 1921.0,1208.0C1918.3,1209.5 1912.4,1205.8 1910.0,1206.0C1907.6,1206.2 1908.0,1207.8 1905.0,1209.0C1902.0,1210.2 1893.5,1212.2 1890.0,1214.0C1886.5,1215.8 1883.0,1219.2 1882.0,1221.0C1881.0,1222.8 1882.1,1224.5 1883.0,1226.0C1883.9,1227.5 1887.5,1229.5 1888.0,1231.0C1888.5,1232.5 1887.8,1234.8 1886.0,1236.0C1884.2,1237.2 1879.3,1238.2 1876.0,1239.0C1872.7,1239.8 1867.3,1241.2 1864.0,1241.0C1860.7,1240.8 1856.1,1239.7 1854.0,1238.0C1851.9,1236.3 1850.3,1233.9 1850.0,1230.0C1849.7,1226.1 1852.0,1215.9 1852.0,1212.0C1852.0,1208.1 1851.3,1206.2 1850.0,1204.0C1848.7,1201.8 1845.4,1197.6 1843.0,1197.0C1840.6,1196.4 1837.2,1198.3 1834.0,1200.0C1830.8,1201.7 1825.2,1206.8 1822.0,1208.0C1818.8,1209.2 1814.3,1209.8 1813.0,1208.0C1811.7,1206.2 1812.5,1199.5 1813.0,1196.0C1813.5,1192.5 1817.3,1186.8 1816.0,1185.0C1814.7,1183.2 1805.8,1185.7 1804.0,1184.0C1802.2,1182.3 1801.3,1176.1 1804.0,1174.0C1806.7,1171.9 1818.1,1171.8 1822.0,1170.0C1825.9,1168.2 1827.6,1165.3 1830.0,1162.0C1832.4,1158.7 1836.8,1151.5 1838.0,1148.0C1839.2,1144.5 1838.9,1141.1 1838.0,1139.0C1837.1,1136.9 1832.6,1135.7 1832.0,1134.0C1831.4,1132.3 1833.1,1130.1 1834.0,1128.0C1834.9,1125.9 1837.0,1122.7 1838.0,1120.0C1839.0,1117.3 1840.7,1113.0 1841.0,1110.0C1841.3,1107.0 1841.0,1103.0 1840.0,1100.0C1839.0,1097.0 1835.5,1093.6 1834.0,1090.0C1832.5,1086.4 1831.2,1079.6 1830.0,1076.0C1828.8,1072.4 1827.2,1069.0 1826.0,1066.0C1824.8,1063.0 1823.5,1059.9 1822.0,1056.0C1820.5,1052.1 1818.4,1044.2 1816.0,1040.0C1813.6,1035.8 1808.7,1030.1 1806.0,1028.0C1803.3,1025.9 1800.7,1026.0 1798.0,1026.0C1795.3,1026.0 1790.7,1028.9 1788.0,1028.0C1785.3,1027.1 1781.3,1022.4 1780.0,1020.0C1778.7,1017.6 1779.6,1015.0 1779.0,1012.0C1778.4,1009.0 1776.8,1003.0 1776.0,1000.0C1775.2,997.0 1774.9,993.8 1774.0,992.0C1773.1,990.2 1772.4,988.5 1770.0,988.0C1767.6,987.5 1760.8,989.6 1758.0,989.0C1755.2,988.4 1752.2,986.0 1751.0,984.0C1749.8,982.0 1749.2,978.2 1750.0,976.0C1750.8,973.8 1753.9,970.4 1756.0,969.6C1758.1,968.9 1762.3,969.9 1764.0,971.0C1765.7,972.1 1765.2,975.5 1767.0,977.0C1768.8,978.5 1772.2,980.4 1776.0,981.0C1779.8,981.6 1788.7,981.9 1792.0,981.0C1795.3,980.1 1795.3,975.8 1798.0,975.0C1800.7,974.2 1806.4,976.8 1810.0,976.0C1813.6,975.2 1819.0,972.4 1822.0,970.0C1825.0,967.6 1828.2,963.3 1830.0,960.0C1831.8,956.7 1833.7,951.6 1834.0,948.0C1834.3,944.4 1833.8,939.0 1832.0,936.0C1830.2,933.0 1825.6,930.1 1822.0,928.0C1818.4,925.9 1811.9,923.8 1808.0,922.0C1804.1,920.2 1798.7,918.4 1796.0,916.0C1793.3,913.6 1792.7,908.1 1790.0,906.0C1787.3,903.9 1781.0,902.3 1778.0,902.0C1775.0,901.7 1771.8,904.5 1770.0,904.0C1768.2,903.5 1768.4,899.9 1766.0,899.0C1763.6,898.1 1755.7,899.6 1754.0,898.0C1752.3,896.4 1755.6,890.4 1755.0,888.0C1754.4,885.6 1751.0,884.4 1750.0,882.0C1749.0,879.6 1747.5,874.7 1748.0,872.0C1748.5,869.3 1751.8,866.5 1753.0,864.0C1754.2,861.5 1754.3,856.0 1756.0,855.0C1757.7,854.0 1761.0,856.2 1764.0,857.0C1767.0,857.8 1772.4,859.9 1776.0,860.0C1779.6,860.1 1784.7,858.9 1788.0,858.0C1791.3,857.1 1795.8,856.1 1798.0,854.0C1800.2,851.9 1802.4,847.3 1803.0,844.0C1803.6,840.7 1803.3,836.2 1802.0,832.0C1800.7,827.8 1795.5,820.8 1794.0,816.0C1792.5,811.2 1793.0,802.7 1792.0,800.0C1791.0,797.3 1787.8,799.5 1787.0,798.0C1786.2,796.5 1787.5,792.1 1787.0,790.0C1786.5,787.9 1785.3,785.2 1784.0,784.0C1782.7,782.8 1779.8,782.9 1778.0,782.0C1776.2,781.1 1772.6,779.2 1772.0,778.0C1771.4,776.8 1772.5,774.8 1774.0,774.0C1775.5,773.2 1779.0,772.7 1782.0,773.0C1785.0,773.3 1790.4,775.0 1794.0,776.0C1797.6,777.0 1803.0,780.0 1806.0,780.0C1809.0,780.0 1812.2,777.5 1814.0,776.0C1815.8,774.5 1816.8,772.7 1818.0,770.0C1819.2,767.3 1821.1,762.5 1822.0,758.0C1822.9,753.5 1823.8,745.7 1824.0,740.0C1824.2,734.3 1823.5,725.7 1823.0,720.0C1822.5,714.3 1822.0,706.2 1821.0,702.0C1820.0,697.8 1818.0,694.4 1816.0,692.0C1814.0,689.6 1810.2,686.8 1808.0,686.0C1805.8,685.2 1802.3,686.2 1801.0,687.0C1799.7,687.8 1800.0,690.2 1799.0,691.0C1798.0,691.8 1795.5,693.0 1794.0,692.0C1792.5,691.0 1790.3,686.1 1789.0,684.0C1787.7,681.9 1785.5,680.7 1785.0,678.0C1784.5,675.3 1785.3,670.2 1785.6,666.0C1785.9,661.8 1786.6,654.8 1787.0,650.0C1787.4,645.2 1787.4,638.4 1788.0,634.0C1788.6,629.6 1791.5,623.1 1791.0,621.0C1790.5,618.9 1787.1,621.2 1785.0,620.0C1782.9,618.8 1778.6,615.7 1777.0,613.0C1775.4,610.3 1774.6,605.1 1774.4,602.0C1774.2,598.9 1773.7,594.1 1776.0,592.0C1778.3,589.9 1785.5,589.8 1790.0,588.0C1794.5,586.2 1801.2,583.3 1806.0,580.0C1810.8,576.7 1817.8,570.5 1822.0,566.0C1826.2,561.5 1831.3,553.6 1834.0,550.0C1836.7,546.4 1838.2,545.6 1840.0,542.0C1841.8,538.4 1844.8,530.8 1846.0,526.0C1847.2,521.2 1847.8,515.4 1848.0,510.0C1848.2,504.6 1847.8,496.0 1847.0,490.0C1846.2,484.0 1844.3,476.0 1843.0,470.0C1841.7,464.0 1839.5,456.3 1838.0,450.0C1836.5,443.7 1834.8,434.3 1833.0,428.0C1831.2,421.7 1828.2,414.3 1826.0,408.0C1823.8,401.7 1820.4,392.9 1818.0,386.0C1815.6,379.1 1811.8,367.4 1810.0,362.0C1808.2,356.6 1806.0,352.9 1806.0,350.0Z" fill="#d76a2c"/>
<circle cx="1893.6" cy="487.6" r="81.6" fill="#f7d6bd" fill-opacity="0.72"/>
<circle cx="1815" cy="577.4" r="41" fill="#f7d6bd" fill-opacity="0.72"/>
<circle cx="1892" cy="681.2" r="118" fill="#f7d6bd" fill-opacity="0.72"/>
<circle cx="2154" cy="617.8" r="40.8" fill="#f7d6bd" fill-opacity="0.72"/>
<circle cx="1829.4" cy="922" r="70.3" fill="#f7d6bd" fill-opacity="0.72"/>
<g filter="url(#tk6_2a0503)"><text transform="translate(1786.66 906.00) scale(0.7521 1)" font-family="Liberation Sans, sans-serif" font-size="24.17" fill="#2a0503" font-weight="700" letter-spacing="1.52">PATONG /</text></g>
<circle cx="1787" cy="840" r="65.8" fill="#f7d6bd" fill-opacity="0.72"/>
<circle cx="1862.8" cy="1049" r="84" fill="#f7d6bd" fill-opacity="0.72"/>
<circle cx="2076.4" cy="892.4" r="91.6" fill="#f7d6bd" fill-opacity="0.72"/>
<circle cx="2132.2" cy="973.4" r="51" fill="#f7d6bd" fill-opacity="0.72"/>
<circle cx="2009" cy="1046.8" r="51.8" fill="#f7d6bd" fill-opacity="0.72"/>
<circle cx="1846.8" cy="1195" r="48" fill="#f7d6bd" fill-opacity="0.72"/>
<g filter="url(#tk8_f05223)"><text transform="translate(1990.47 1082.80) scale(0.9063 1)" font-family="DejaVu Serif, serif" font-size="25.23" fill="#f05223" font-weight="700" letter-spacing="1.76">2%</text></g>
<circle cx="1999.6" cy="1173.6" r="98.8" fill="#f7d6bd" fill-opacity="0.72"/>
<rect x="2005.2" y="425.2" width="94.0" height="35.2" fill="#f16d22"/>
<rect x="2099.2" y="425.2" width="83.6" height="35.2" fill="#d0cecf"/>
<rect x="2255.6" y="548.8" width="93.2" height="34.0" fill="#f16d22"/>
<rect x="1611.6" y="567.2" width="86.4" height="35.6" fill="#d0cecf"/>
<rect x="1476.8" y="645.2" width="94.0" height="35.6" fill="#f16d22"/>
<rect x="1570.8" y="645.2" width="84.0" height="35.6" fill="#d0cecf"/>
<rect x="1454.8" y="784" width="94.0" height="35.4" fill="#f16d22"/>
<rect x="1548.8" y="784" width="84.4" height="35.4" fill="#d0cecf"/>
<rect x="2174" y="784" width="93.6" height="35.4" fill="#f16d22"/>
<rect x="2267.6" y="784" width="83.2" height="35.4" fill="#d0cecf"/>
<rect x="1481.2" y="904.4" width="93.6" height="35.2" fill="#f16d22"/>
<rect x="1574.8" y="904.4" width="83.2" height="35.2" fill="#d0cecf"/>
<rect x="2210.8" y="920.4" width="94.4" height="34.8" fill="#f16d22"/>
<rect x="2305.2" y="920.4" width="83.6" height="34.8" fill="#d0cecf"/>
<rect x="1513.2" y="1040" width="93.2" height="35.2" fill="#f16d22"/>
<rect x="1606.4" y="1040" width="84.4" height="35.2" fill="#d0cecf"/>
<rect x="2129.2" y="1076" width="93.6" height="35.2" fill="#f16d22"/>
<rect x="2222.8" y="1076" width="84.4" height="35.2" fill="#d0cecf"/>
<rect x="1580.8" y="1160.8" width="80.0" height="35.2" fill="#d0cecf"/>
<rect x="2166.8" y="1152" width="93.6" height="35.2" fill="#f16d22"/>
<rect x="2260.4" y="1152" width="83.6" height="35.2" fill="#d0cecf"/>
<rect x="1418" y="1263.2" width="180.4" height="35.2" fill="#f16d22"/><rect x="1598.4" y="1263.2" width="161.2" height="35.2" fill="#d0cecf"/>
<g id="text-main">
<g filter="url(#tk6_f05223)"><text transform="translate(100.36 184.80) scale(0.9477 1)" font-family="Liberation Sans, sans-serif" font-size="74.53" fill="#f05223" font-weight="700" letter-spacing="-0.05">PHUKET HOTEL &amp; RESIDENTIAL</text></g>
<g filter="url(#tk6_f05223)"><text transform="translate(101.36 272.20) scale(0.9465 1)" font-family="Liberation Sans, sans-serif" font-size="75.68" fill="#f05223" font-weight="700" letter-spacing="-0.09">SUPPLY OUTLOOK</text></g>
<g filter="url(#tk9_404040)"><text transform="translate(128.25 385.60) scale(0.7411 1)" font-family="Liberation Sans, sans-serif" font-size="42.30" fill="#404040" font-weight="700" letter-spacing="2.99">HOTEL SUPPLY</text></g>
<text x="134.53" y="444.80" font-family="Liberation Sans, sans-serif" font-size="25.51" fill="#1a1a1a" stroke="#1a1a1a" stroke-width="0.3" textLength="156.60" lengthAdjust="spacingAndGlyphs">No. of Properties</text>
<text x="759.14" y="443.80" font-family="Liberation Sans, sans-serif" font-size="25.51" fill="#1a1a1a" stroke="#1a1a1a" stroke-width="0.3" textLength="106.98" lengthAdjust="spacingAndGlyphs">No. of Keys</text>
<g filter="url(#tk9_f05223)"><text transform="translate(395.05 464.00) scale(0.7822 1)" font-family="DejaVu Serif, serif" font-size="30.07" fill="#f05223" font-weight="700" letter-spacing="1.52">102,109</text></g>
<text x="515.66" y="464.00" font-family="Liberation Sans, sans-serif" font-size="32.46" fill="#000" stroke="#000" stroke-width="0.9" textLength="53.99" lengthAdjust="spacingAndGlyphs">Keys</text>
<text x="575.76" y="464.00" font-family="Liberation Sans, sans-serif" font-size="22.00" fill="#000" stroke="#000" stroke-width="0.7" textLength="73.04" lengthAdjust="spacingAndGlyphs">(by 2029)</text>
<text x="120.19" y="498.10" font-family="Liberation Sans, sans-serif" font-size="25.25" fill="#6c6c6c" stroke="#6c6c6c" stroke-width="0.3" textLength="53.58" lengthAdjust="spacingAndGlyphs">1,480</text>
<text x="120.19" y="590.40" font-family="Liberation Sans, sans-serif" font-size="25.43" fill="#6c6c6c" stroke="#6c6c6c" stroke-width="0.3" textLength="53.58" lengthAdjust="spacingAndGlyphs">1,460</text>
<text x="120.19" y="683.40" font-family="Liberation Sans, sans-serif" font-size="25.43" fill="#6c6c6c" stroke="#6c6c6c" stroke-width="0.3" textLength="53.58" lengthAdjust="spacingAndGlyphs">1,440</text>
<text x="805.53" y="497.90" font-family="Liberation Sans, sans-serif" font-size="25.43" fill="#6c6c6c" stroke="#6c6c6c" stroke-width="0.3" textLength="75.83" lengthAdjust="spacingAndGlyphs">104,000</text>
<text x="805.53" y="559.80" font-family="Liberation Sans, sans-serif" font-size="25.43" fill="#6c6c6c" stroke="#6c6c6c" stroke-width="0.3" textLength="75.83" lengthAdjust="spacingAndGlyphs">100,000</text>
<text x="806.15" y="621.60" font-family="Liberation Sans, sans-serif" font-size="25.43" fill="#6c6c6c" stroke="#6c6c6c" stroke-width="0.3" textLength="64.31" lengthAdjust="spacingAndGlyphs">96,000</text>
<text x="806.15" y="683.30" font-family="Liberation Sans, sans-serif" font-size="25.43" fill="#6c6c6c" stroke="#6c6c6c" stroke-width="0.3" textLength="64.31" lengthAdjust="spacingAndGlyphs">92,000</text>
<text x="226.31" y="717.80" font-family="Liberation Sans, sans-serif" font-size="26.57" fill="#6e6e6e" stroke="#6e6e6e" stroke-width="0.3" textLength="57.00" lengthAdjust="spacingAndGlyphs">2025*</text>
<text x="343.71" y="717.80" font-family="Liberation Sans, sans-serif" font-size="26.57" fill="#6e6e6e" stroke="#6e6e6e" stroke-width="0.3" textLength="57.00" lengthAdjust="spacingAndGlyphs">2026*</text>
<text x="460.91" y="717.80" font-family="Liberation Sans, sans-serif" font-size="26.57" fill="#6e6e6e" stroke="#6e6e6e" stroke-width="0.3" textLength="57.00" lengthAdjust="spacingAndGlyphs">2027*</text>
<text x="577.11" y="717.80" font-family="Liberation Sans, sans-serif" font-size="26.57" fill="#6e6e6e" stroke="#6e6e6e" stroke-width="0.3" textLength="57.00" lengthAdjust="spacingAndGlyphs">2028*</text>
<text x="694.11" y="717.80" font-family="Liberation Sans, sans-serif" font-size="26.57" fill="#6e6e6e" stroke="#6e6e6e" stroke-width="0.3" textLength="57.00" lengthAdjust="spacingAndGlyphs">2029*</text>
<text x="342.18" y="770.60" font-family="Liberation Sans, sans-serif" font-size="25.51" fill="#6e6e6e" stroke="#6e6e6e" stroke-width="0.3" textLength="241.13" lengthAdjust="spacingAndGlyphs">Registered Establishments</text>
<text x="683.42" y="770.60" font-family="Liberation Sans, sans-serif" font-size="25.51" fill="#6e6e6e" stroke="#6e6e6e" stroke-width="0.3" textLength="43.87" lengthAdjust="spacingAndGlyphs">Keys</text>
<text x="924.91" y="752.70" font-family="Liberation Sans, sans-serif" font-size="15.22" fill="#333" font-style="italic" stroke="#333" stroke-width="0.3" textLength="361.96" lengthAdjust="spacingAndGlyphs">*All figures reflect forecasted registered establishments and keys.</text>
<text x="1062.39" y="772.00" font-family="Liberation Sans, sans-serif" font-size="15.22" fill="#333" font-style="italic" stroke="#333" stroke-width="0.3" textLength="223.52" lengthAdjust="spacingAndGlyphs">Source: C9 Hotelworks Market Research</text>
<g filter="url(#tk9_404040)"><text transform="translate(124.67 864.80) scale(0.7134 1)" font-family="Liberation Sans, sans-serif" font-size="44.32" fill="#404040" font-weight="700" letter-spacing="2.97">RESIDENTIAL SUPPLY</text></g>
<g filter="url(#tk9_fff)"><text transform="translate(165.96 1149.20) scale(0.7579 1)" font-family="DejaVu Serif, serif" font-size="29.32" fill="#fff" font-weight="700" letter-spacing="1.44">43,481 Units</text></g>
<text x="128.30" y="1200.00" font-family="Liberation Sans, sans-serif" font-size="24.35" fill="#111" stroke="#111" stroke-width="0.3" textLength="252.55" lengthAdjust="spacingAndGlyphs">Available in the primary market</text>
<g filter="url(#tk7_fff)"><text transform="translate(453.56 1083.30) scale(0.8224 1)" font-family="DejaVu Serif, serif" font-size="21.34" fill="#fff" font-weight="700" letter-spacing="1.24">12%</text></g>
<g filter="url(#tk7_fff)"><text transform="translate(639.80 1085.20) scale(0.8046 1)" font-family="DejaVu Serif, serif" font-size="21.34" fill="#fff" font-weight="700" letter-spacing="1.28">88%</text></g>
<text x="460.43" y="1234.00" font-family="Liberation Sans, sans-serif" font-size="23.48" fill="#777" stroke="#777" stroke-width="0.3" textLength="69.70" lengthAdjust="spacingAndGlyphs">Branded</text>
<text x="578.01" y="1234.00" font-family="Liberation Sans, sans-serif" font-size="23.48" fill="#777" stroke="#777" stroke-width="0.3" textLength="111.14" lengthAdjust="spacingAndGlyphs">Non-Branded</text>
<g filter="url(#tk8_000)"><text transform="translate(801.61 950.20) scale(0.9098 1)" font-family="DejaVu Serif, serif" font-size="27.67" fill="#000" font-weight="700" letter-spacing="1.81">MARKET VALUE BY SEGMENT</text></g>
<g filter="url(#tk9_f05223)"><text transform="translate(795.06 1030.80) scale(0.8339 1)" font-family="DejaVu Serif, serif" font-size="32.88" fill="#f05223" font-weight="700" letter-spacing="1.91">THB 342.2B</text></g>
<text x="850.84" y="1059.00" font-family="Liberation Sans, sans-serif" font-size="20.00" fill="#666" font-style="italic" stroke="#666" stroke-width="0.3" textLength="82.69" lengthAdjust="spacingAndGlyphs">USD 10.6B</text>
<text x="782.56" y="1094.80" font-family="Liberation Sans, sans-serif" font-size="20.87" fill="#000" stroke="#000" stroke-width="0.5" textLength="220.49" lengthAdjust="spacingAndGlyphs">NON-BRANDED RESIDENCES</text>
<g filter="url(#tk12_fff)"><text transform="translate(1034.35 1057.00) scale(0.8694 1)" font-family="DejaVu Serif, serif" font-size="43.76" fill="#fff" font-weight="700" letter-spacing="2.89">75%</text></g>
<g filter="url(#tk9_f05223)"><text transform="translate(795.06 1176.40) scale(0.8339 1)" font-family="DejaVu Serif, serif" font-size="32.88" fill="#f05223" font-weight="700" letter-spacing="1.91">THB 112.6B</text></g>
<text x="853.46" y="1202.40" font-family="Liberation Sans, sans-serif" font-size="19.13" fill="#666" font-style="italic" stroke="#666" stroke-width="0.3" textLength="72.67" lengthAdjust="spacingAndGlyphs">USD 3.5B</text>
<text x="788.37" y="1237.20" font-family="Liberation Sans, sans-serif" font-size="20.87" fill="#000" stroke="#000" stroke-width="0.5" textLength="179.48" lengthAdjust="spacingAndGlyphs">BRANDED RESIDENCES</text>
<g filter="url(#tk12_f05223)"><text transform="translate(1101.33 1204.30) scale(0.8675 1)" font-family="DejaVu Serif, serif" font-size="43.89" fill="#f05223" font-weight="700" letter-spacing="2.92">25%</text></g>
<text x="1031.54" y="1303.50" font-family="Liberation Sans, sans-serif" font-size="19.57" fill="#333" font-style="italic" stroke="#333" stroke-width="0.3" textLength="260.15" lengthAdjust="spacingAndGlyphs">Source: C9 Hotelworks Market Research</text>
<g filter="url(#tk12_404040)"><text transform="translate(1404.94 243.80) scale(0.6900 1)" font-family="Liberation Sans, sans-serif" font-size="66.76" fill="#404040" font-weight="700" letter-spacing="4.94">PHUKET PROPERTY</text></g>
<g filter="url(#tk7_404040)"><text transform="translate(1404.22 287.90) scale(0.7340 1)" font-family="Liberation Sans, sans-serif" font-size="32.09" fill="#404040" font-weight="700" letter-spacing="2.22">INCOMING INVESTMENT MARKET VALUE</text></g>
<g filter="url(#tk15_f05223)"><text transform="translate(2009.74 237.40) scale(0.8287 1)" font-family="DejaVu Serif, serif" font-size="56.85" fill="#f05223" font-weight="700" letter-spacing="3.54">THB 455B</text></g>
<g filter="url(#tk15_f05223)"><text transform="translate(2030.41 312.50) scale(0.8256 1)" font-family="DejaVu Serif, serif" font-size="57.40" fill="#f05223" font-weight="700" letter-spacing="3.51">USD 14B</text></g>
<g filter="url(#tk12_f05223)"><text transform="translate(1427.35 405.10) scale(0.8009 1)" font-family="DejaVu Serif, serif" font-size="44.83" fill="#f05223" font-weight="700" letter-spacing="2.16">5,208</text></g>
<g filter="url(#tk12_f05223)"><text transform="translate(1426.22 484.90) scale(0.7788 1)" font-family="DejaVu Serif, serif" font-size="45.64" fill="#f05223" font-weight="700" letter-spacing="2.29">43,481</text></g>
<g filter="url(#tk3_404040)"><text transform="translate(1584.24 386.00) scale(0.6939 1)" font-family="Liberation Sans, sans-serif" font-size="26.38" fill="#404040" stroke="#404040" stroke-width="0.3" letter-spacing="0.21">Hotel Pipeline Keys</text></g>
<text x="1585.03" y="408.90" font-family="Liberation Sans, sans-serif" font-size="17.83" fill="#111" font-style="italic" stroke="#111" stroke-width="0.3" textLength="196.70" lengthAdjust="spacingAndGlyphs">Scheduled to open 2026-2029</text>
<g filter="url(#tk3_404040)"><text transform="translate(1584.26 469.40) scale(0.6696 1)" font-family="Liberation Sans, sans-serif" font-size="26.96" fill="#404040" stroke="#404040" stroke-width="0.3" letter-spacing="0.22">Residences Units</text></g>
<text x="1584.89" y="491.00" font-family="Liberation Sans, sans-serif" font-size="18.26" fill="#111" font-style="italic" stroke="#111" stroke-width="0.3" textLength="219.09" lengthAdjust="spacingAndGlyphs">Incl. both branded &amp; non-branded</text>
</g>
<g id="text-map">
<g filter="url(#tk6_2a0503)"><text transform="translate(1847.49 482.00) scale(0.7278 1)" font-family="Liberation Sans, sans-serif" font-size="24.17" fill="#2a0503" font-weight="700" letter-spacing="1.65">MAI KHAO</text></g>
<g filter="url(#tk8_f05223)"><text transform="translate(1874.18 516.00) scale(0.9016 1)" font-family="DejaVu Serif, serif" font-size="26.85" fill="#f05223" font-weight="700" letter-spacing="1.86">7%</text></g>
<g filter="url(#tk6_2a0503)"><text transform="translate(1778.84 571.20) scale(0.7461 1)" font-family="Liberation Sans, sans-serif" font-size="18.99" fill="#2a0503" font-weight="700" letter-spacing="1.19">NAI YANG</text></g>
<g filter="url(#tk7_f05223)"><text transform="translate(1800.17 596.00) scale(0.9672 1)" font-family="DejaVu Serif, serif" font-size="21.48" fill="#f05223" font-weight="700" letter-spacing="1.44">1%</text></g>
<g filter="url(#tk7_2a0503)"><text transform="translate(1811.07 682.00) scale(0.7486 1)" font-family="Liberation Sans, sans-serif" font-size="27.05" fill="#2a0503" font-weight="700" letter-spacing="2.06">CHERNGTALAY</text></g>
<g filter="url(#tk9_f05223)"><text transform="translate(1860.56 732.00) scale(0.8964 1)" font-family="DejaVu Serif, serif" font-size="33.29" fill="#f05223" font-weight="700" letter-spacing="2.24">48%</text></g>
<g filter="url(#tk6_2a0503)"><text transform="translate(2124.48 610.00) scale(0.7318 1)" font-family="Liberation Sans, sans-serif" font-size="18.42" fill="#2a0503" font-weight="700" letter-spacing="1.23">PA KLOK</text></g>
<g filter="url(#tk7_f05223)"><text transform="translate(2138.97 636.80) scale(0.9672 1)" font-family="DejaVu Serif, serif" font-size="21.48" fill="#f05223" font-weight="700" letter-spacing="1.44">1%</text></g>
<g filter="url(#tk6_2a0503)"><text transform="translate(1743.51 830.00) scale(0.7191 1)" font-family="Liberation Sans, sans-serif" font-size="24.17" fill="#2a0503" font-weight="700" letter-spacing="1.93">KAMALA</text></g>
<g filter="url(#tk8_f05223)"><text transform="translate(1768.79 868.00) scale(0.9311 1)" font-family="DejaVu Serif, serif" font-size="26.85" fill="#f05223" font-weight="700" letter-spacing="1.90">5%</text></g>
<g filter="url(#tk6_2a0503)"><text transform="translate(1799.47 934.00) scale(0.7439 1)" font-family="Liberation Sans, sans-serif" font-size="24.17" fill="#2a0503" font-weight="700" letter-spacing="1.79">KATHU</text></g>
<g filter="url(#tk8_f05223)"><text transform="translate(1813.31 966.00) scale(0.9192 1)" font-family="DejaVu Serif, serif" font-size="26.85" fill="#f05223" font-weight="700" letter-spacing="1.93">6%</text></g>
<g filter="url(#tk6_2a0503)"><text transform="translate(1794.29 1048.00) scale(0.7173 1)" font-family="Liberation Sans, sans-serif" font-size="24.75" fill="#2a0503" font-weight="700" letter-spacing="1.59">KATA / KARON</text></g>
<g filter="url(#tk8_f05223)"><text transform="translate(1841.57 1086.00) scale(0.9134 1)" font-family="DejaVu Serif, serif" font-size="26.85" fill="#f05223" font-weight="700" letter-spacing="1.94">8%</text></g>
<g filter="url(#tk6_2a0503)"><text transform="translate(2004.30 884.00) scale(0.7100 1)" font-family="Liberation Sans, sans-serif" font-size="24.75" fill="#2a0503" font-weight="700" letter-spacing="1.82">PHUKET TOWN</text></g>
<g filter="url(#tk8_f05223)"><text transform="translate(2054.92 920.80) scale(0.9094 1)" font-family="DejaVu Serif, serif" font-size="27.92" fill="#f05223" font-weight="700" letter-spacing="1.96">7%</text></g>
<g filter="url(#tk6_2a0503)"><text transform="translate(2093.01 970.80) scale(0.7313 1)" font-family="Liberation Sans, sans-serif" font-size="21.29" fill="#2a0503" font-weight="700" letter-spacing="1.34">SIRAY BAY</text></g>
<g filter="url(#tk7_f05223)"><text transform="translate(2121.30 1000.00) scale(0.9075 1)" font-family="DejaVu Serif, serif" font-size="24.16" fill="#f05223" font-weight="700" letter-spacing="1.67">2%</text></g>
<g filter="url(#tk6_2a0503)"><text transform="translate(1967.99 1033.20) scale(0.7290 1)" font-family="Liberation Sans, sans-serif" font-size="20.72" fill="#2a0503" font-weight="700" letter-spacing="1.63">CHALONG</text></g>
<g filter="url(#tk6_2a0503)"><text transform="translate(1992.38 1056.80) scale(0.7636 1)" font-family="Liberation Sans, sans-serif" font-size="20.14" fill="#2a0503" font-weight="700" letter-spacing="1.41">BAY</text></g>
<g filter="url(#tk7_2a0503)"><text transform="translate(1958.09 1168.40) scale(0.8029 1)" font-family="Liberation Sans, sans-serif" font-size="26.47" fill="#2a0503" font-weight="700" letter-spacing="1.90">RAWAI</text></g>
<g filter="url(#tk9_f05223)"><text transform="translate(1965.71 1206.00) scale(0.8887 1)" font-family="DejaVu Serif, serif" font-size="29.53" fill="#f05223" font-weight="700" letter-spacing="1.86">12%</text></g>
<g filter="url(#tk6_2a0503)"><text transform="translate(1835.63 1172.80) scale(0.7724 1)" font-family="Liberation Sans, sans-serif" font-size="18.42" fill="#2a0503" font-weight="700" letter-spacing="0.91">NAI</text></g>
<g filter="url(#tk6_2a0503)"><text transform="translate(1827.67 1194.00) scale(0.7446 1)" font-family="Liberation Sans, sans-serif" font-size="18.42" fill="#2a0503" font-weight="700" letter-spacing="1.38">HARN</text></g>
<g filter="url(#tk7_f05223)"><text transform="translate(1829.24 1225.20) scale(0.9103 1)" font-family="DejaVu Serif, serif" font-size="24.70" fill="#f05223" font-weight="700" letter-spacing="1.60">1%</text></g>
</g>
<g id="text-bars">
<text x="2029.84" y="449.40" font-family="Liberation Sans, sans-serif" font-size="25.14" fill="#fff" stroke="#fff" stroke-width="0.3" textLength="48.25" lengthAdjust="spacingAndGlyphs">2,717</text>
<text x="2112.02" y="449.40" font-family="Liberation Sans, sans-serif" font-size="24.96" fill="#000" stroke="#000" stroke-width="0.3" textLength="32.69" lengthAdjust="spacingAndGlyphs">820</text>
<text x="2287.81" y="572.20" font-family="Liberation Sans, sans-serif" font-size="25.14" fill="#fff" stroke="#fff" stroke-width="0.3" textLength="33.11" lengthAdjust="spacingAndGlyphs">672</text>
<text x="1640.06" y="594.20" font-family="Liberation Sans, sans-serif" font-size="25.51" fill="#000" stroke="#000" stroke-width="0.3" textLength="32.79" lengthAdjust="spacingAndGlyphs">115</text>
<text x="1495.84" y="670.50" font-family="Liberation Sans, sans-serif" font-size="25.14" fill="#fff" stroke="#fff" stroke-width="0.3" textLength="58.96" lengthAdjust="spacingAndGlyphs">21,625</text>
<text x="1582.55" y="670.50" font-family="Liberation Sans, sans-serif" font-size="24.96" fill="#000" stroke="#000" stroke-width="0.3" textLength="48.34" lengthAdjust="spacingAndGlyphs">1,837</text>
<text x="1489.02" y="811.90" font-family="Liberation Sans, sans-serif" font-size="25.14" fill="#fff" stroke="#fff" stroke-width="0.3" textLength="49.09" lengthAdjust="spacingAndGlyphs">2,132</text>
<text x="1565.33" y="811.90" font-family="Liberation Sans, sans-serif" font-size="24.96" fill="#000" stroke="#000" stroke-width="0.3" textLength="32.67" lengthAdjust="spacingAndGlyphs">185</text>
<text x="2196.51" y="809.80" font-family="Liberation Sans, sans-serif" font-size="25.14" fill="#fff" stroke="#fff" stroke-width="0.3" textLength="49.09" lengthAdjust="spacingAndGlyphs">3,405</text>
<text x="2279.36" y="809.80" font-family="Liberation Sans, sans-serif" font-size="24.96" fill="#000" stroke="#000" stroke-width="0.3" textLength="32.14" lengthAdjust="spacingAndGlyphs">180</text>
<text x="1510.25" y="928.50" font-family="Liberation Sans, sans-serif" font-size="25.14" fill="#fff" stroke="#fff" stroke-width="0.3" textLength="47.42" lengthAdjust="spacingAndGlyphs">2,631</text>
<text x="1586.40" y="928.50" font-family="Liberation Sans, sans-serif" font-size="25.14" fill="#000" stroke="#000" stroke-width="0.3" textLength="33.32" lengthAdjust="spacingAndGlyphs">432</text>
<text x="2256.21" y="944.30" font-family="Liberation Sans, sans-serif" font-size="25.14" fill="#fff" stroke="#fff" stroke-width="0.3" textLength="33.11" lengthAdjust="spacingAndGlyphs">634</text>
<text x="2317.77" y="944.30" font-family="Liberation Sans, sans-serif" font-size="24.96" fill="#000" stroke="#000" stroke-width="0.3" textLength="31.92" lengthAdjust="spacingAndGlyphs">182</text>
<text x="1546.12" y="1065.50" font-family="Liberation Sans, sans-serif" font-size="24.96" fill="#fff" stroke="#fff" stroke-width="0.3" textLength="48.68" lengthAdjust="spacingAndGlyphs">3,885</text>
<text x="1627.80" y="1065.50" font-family="Liberation Sans, sans-serif" font-size="25.14" fill="#000" stroke="#000" stroke-width="0.3" textLength="22.33" lengthAdjust="spacingAndGlyphs">29</text>
<text x="2168.26" y="1101.50" font-family="Liberation Sans, sans-serif" font-size="25.14" fill="#fff" stroke="#fff" stroke-width="0.3" textLength="31.41" lengthAdjust="spacingAndGlyphs">631</text>
<text x="2234.51" y="1101.50" font-family="Liberation Sans, sans-serif" font-size="24.96" fill="#000" stroke="#000" stroke-width="0.3" textLength="33.21" lengthAdjust="spacingAndGlyphs">189</text>
<text x="1603.81" y="1186.30" font-family="Liberation Sans, sans-serif" font-size="25.14" fill="#000" stroke="#000" stroke-width="0.3" textLength="32.90" lengthAdjust="spacingAndGlyphs">660</text>
<text x="2198.03" y="1176.80" font-family="Liberation Sans, sans-serif" font-size="25.14" fill="#fff" stroke="#fff" stroke-width="0.3" textLength="48.05" lengthAdjust="spacingAndGlyphs">5,149</text>
<text x="2280.03" y="1176.80" font-family="Liberation Sans, sans-serif" font-size="25.14" fill="#000" stroke="#000" stroke-width="0.3" textLength="32.06" lengthAdjust="spacingAndGlyphs">579</text>
<text x="1438.51" y="1288.00" font-family="Liberation Sans, sans-serif" font-size="25.22" fill="#fff" stroke="#fff" stroke-width="0.6" textLength="144.54" lengthAdjust="spacingAndGlyphs">Residences Units</text>
<text x="1633.71" y="1288.00" font-family="Liberation Sans, sans-serif" font-size="25.22" fill="#000" stroke="#000" stroke-width="0.6" textLength="90.35" lengthAdjust="spacingAndGlyphs">Hotel Keys</text>
<text x="2097.64" y="1302.00" font-family="Liberation Sans, sans-serif" font-size="19.13" fill="#333" font-style="italic" stroke="#333" stroke-width="0.3" textLength="258.95" lengthAdjust="spacingAndGlyphs">Source: C9 Hotelworks Market Research</text>
</g>
<g id="connectors" fill="none" stroke="#f2935a" stroke-width="1.35" stroke-dasharray="5.5 4">
<path d="M2005,452Q1955,458 1920,478"/>
<path d="M1698,588Q1745,572 1784,579"/>
<path d="M1654.8,673Q1720,705 1790,732"/>
<path d="M2255.6,576Q2215,578 2184,588"/>
<path d="M1633,796Q1685,796 1720,822"/>
<path d="M2174,802Q2152,808 2136,820"/>
<path d="M1658,918Q1725,915 1764,942"/>
<path d="M2210.8,928Q2188,930 2168,936"/>
<path d="M1690.8,1048Q1745,1045 1782,1068"/>
<path d="M2129,1086Q2085,1092 2048,1080"/>
<path d="M1660.8,1180Q1735,1178 1798,1212"/>
<path d="M2166.8,1171.2Q2125,1174 2092,1190"/>
</g>
</svg>
</body></html>
